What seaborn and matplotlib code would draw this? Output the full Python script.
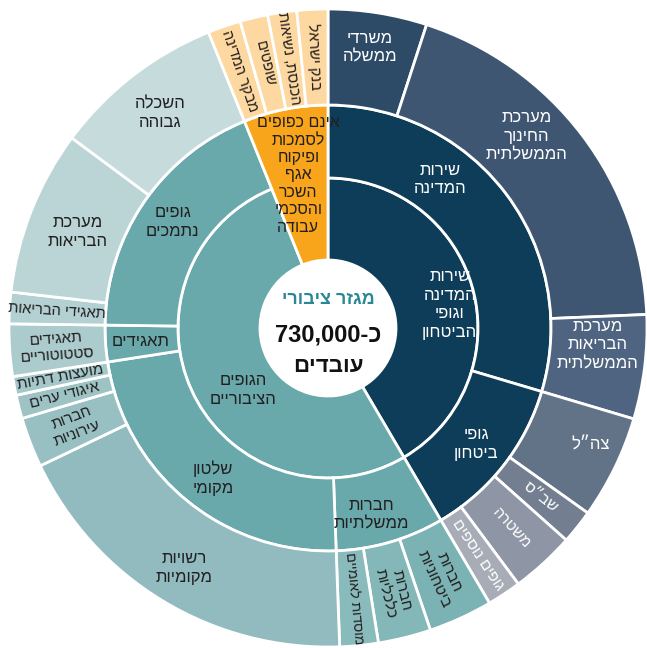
import numpy as np
import matplotlib.pyplot as plt
import seaborn as sns

sns.set_theme(style="white")
plt.rcParams['font.family'] = ['Liberation Sans', 'DejaVu Sans']

# --- data: employees in thousands (total ~730k) ---
inner_labels = ["שירות\nהמדינה\nוגופי\nהביטחון", "הגופים\nהציבוריים",
                "אינם כפופים\nלסמכות\nופיקוח\nאגף\nהשכר\nוהסכמי\nעבודה"]
inner_colors = ["#0e3d59", "#69a9ac", "#f8a51b"]

mid_labels = ["שירות\nהמדינה", "גופי\nביטחון", "חברות\nממשלתיות", "שלטון\nמקומי",
              "תאגידים", "גופים\nנתמכים", "orange"]
mid_parent = [0, 0, 1, 1, 1, 1, 2]

outer_labels = ["משרדי\nממשלה", "מערכת\nהחינוך\nהממשלתית", "מערכת\nהבריאות\nהממשלתית",
                "צה״ל", "שב״ס", "משטרה", "גופים נוספים",
                "חברות\nביטחוניות", "חברות\nכלכליות", "מוסדות לאומיים",
                "רשויות\nמקומיות", "חברות\nעירוניות", "איגודי ערים", "מועצות דתיות",
                "תאגידים\nסטטוטוריים", "תאגידי הבריאות", "מערכת\nהבריאות", "השכלה\nגבוהה",
                "מבקר המדינה", "שופטים", "הכנסת, נשיאות", "בנק ישראל"]
outer_values = [36.5, 141.0, 38.5, 38.3, 12.6, 23.7, 12.6,
                23.7, 19.5, 14.2,
                134.8, 18.5, 8.7, 6.9,
                19.3, 11.6, 61.0, 63.7,
                12.2, 10.3, 10.7, 11.4]
outer_parent = [0, 0, 0, 1, 1, 1, 1,
                2, 2, 2,
                3, 3, 3, 3,
                4, 5, 5, 5,
                6, 6, 6, 6]
outer_colors = ["#2d4a66", "#3f5672", "#4e6480", "#627388", "#737f91", "#8e95a4", "#a8acb7",
                "#7bb2b3", "#84b7b8", "#8abbbc",
                "#91bbbe", "#98c0c2", "#9ec3c5", "#a4c7c9",
                "#abcbcd", "#b3d0d2", "#bbd5d6", "#c5dbdc",
                "#fdd8a0", "#fdd8a0", "#fdd8a0", "#fdd8a0"]

outer_values = np.array(outer_values)
mid_values = np.array([outer_values[np.array(outer_parent) == i].sum() for i in range(len(mid_labels))])
inner_values = np.array([mid_values[np.array(mid_parent) == i].sum() for i in range(len(inner_labels))])
total = outer_values.sum()

fig = plt.figure(figsize=(6.47, 6.48), dpi=100)
ax = fig.add_axes([0, 0, 1, 1])
cx, cy = 328, 320
R0, R1, R2, R3 = 68, 150, 223, 319
edge = dict(edgecolor="white", linewidth=2)


def ring(values, colors, r_out, r_in):
    wedges, _ = ax.pie(values, colors=colors, radius=r_out, center=(cx, cy),
                       startangle=90, counterclock=False,
                       wedgeprops=dict(width=r_out - r_in, **edge))
    return wedges


mid_colors = [inner_colors[p] for p in mid_parent]
w1 = ring(inner_values, inner_colors, R1, R0)
w2 = ring(mid_values, mid_colors, R2, R1)
w1[2].set_visible(False)
w2[-1].set_visible(False)
w12 = ring(inner_values, inner_colors, R2, R0)
w12[0].set_visible(False)
w12[1].set_visible(False)
ring(outer_values, outer_colors, R3, R2)


def mids(values):
    c = np.cumsum(values)
    return (c - values / 2) / total * 360


def heb(s):
    return "\n".join(line[::-1] for line in s.split("\n"))


def put(text, theta, r, radial=False, color="#231f20", size=12, ls=1.3, **kw):
    t = np.deg2rad(theta)
    x, y = cx + r * np.sin(t), cy + r * np.cos(t)
    rot = 0
    if radial:
        rot = 90 - theta
        if rot < -90:
            rot += 180
    ax.text(x, y, heb(text), ha="center", va="center", rotation=rot,
            rotation_mode="anchor", color=color, fontsize=size,
            linespacing=ls, multialignment="center", **kw)


WHITE, DARK = "white", "#231f20"

# inner ring
th = mids(inner_values)
put(inner_labels[0], 79, 124, color=WHITE)
put(inner_labels[1], 234, 105, color=DARK)
put(inner_labels[2], th[2], 156, color=DARK, size=11.5, ls=1.2)

# middle ring
th = mids(mid_values)
mid_pos = {0: (37, 186), 2: (167, 192), 3: (217.5, 189)}
for i, lab in enumerate(mid_labels[:-1]):
    a, r = mid_pos.get(i, (th[i], 188))
    put(lab, a, r, color=WHITE if mid_parent[i] == 0 else DARK)

# outer ring
th = mids(outer_values)
outer_pos = {0: (8.5, 283), 1: (46, 276), 2: (93.6, 270), 3: (114, 287),
             10: (211, 280), 16: (291, 268), 17: (322, 272)}
small = {9: 10, 15: 10.5, 18: 10.5, 19: 10.5, 20: 10.5, 21: 10.5}
for i, lab in enumerate(outer_labels):
    col = WHITE if i < 7 else DARK
    if i in outer_pos:
        a, r = outer_pos[i]
        put(lab, a, r, color=col)
    else:
        put(lab, th[i], 272, radial=True, color=col, size=small.get(i, 11), ls=1.2)

# centre text
ax.text(cx, cy + 28, heb("מגזר ציבורי"), ha="center", va="center",
        fontsize=13, fontweight="bold", color="#2a8797")
ax.text(cx, cy - 7, "730,000-" + "כ", ha="center", va="center",
        fontsize=17, fontweight="bold", color="#111111")
ax.text(cx, cy - 39, heb("עובדים"), ha="center", va="center",
        fontsize=16, fontweight="bold", color="#111111")

ax.set_xlim(0, 647)
ax.set_ylim(0, 648)
ax.set_aspect("equal")
ax.axis("off")
fig.savefig("out.png", dpi=100, facecolor="white")
